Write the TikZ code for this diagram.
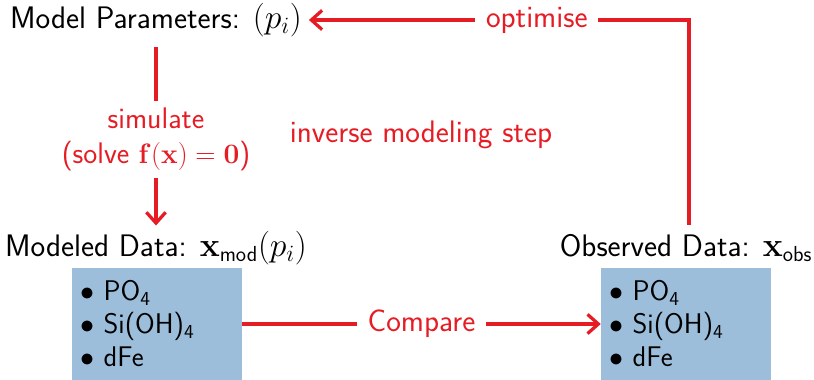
\documentclass[tikz,border=0pt]{standalone}
\usepackage{amsmath,amssymb}
\usetikzlibrary{arrows.meta,positioning}
\definecolor{flowred}{RGB}{230,28,36}
\definecolor{databox}{RGB}{156,190,218}

\begin{document}
\begin{tikzpicture}[x=0.739pt,y=-0.739pt,font=\fontsize{23}{26}\selectfont\sffamily]
\tikzset{
  title/.style={inner sep=1pt,text=black},
  boxnode/.style={fill=databox,minimum width=125.6pt,minimum height=83pt,inner xsep=6pt,inner ysep=2pt,
    text width=113.6pt,align=left,anchor=center,font=\fontsize{21}{24.4}\selectfont\sffamily},
  flow/.style={draw=flowred,line width=2.8pt},
  flowarrow/.style={flow,-{Straight Barb[length=2.8mm,width=5mm,line width=2.4pt]}},
  flowlabel/.style={fill=white,text=flowred,inner xsep=8pt,inner ysep=5pt,align=center}
}
\useasboundingbox (0,0) rectangle (814,380);
\node[title] (n_par) at (156,20) {Model Parameters: $(p_i)$};
\node[title] (n_mod) at (156,248) {Modeled Data: $\mathbf{x}_{\textsf{mod}}(p_i)$};
\node[title] (n_obs) at (686,248) {Observed Data: $\mathbf{x}_{\textsf{obs}}$};
\node[boxnode] (n_modbox) at (157,324) {$\bullet$ PO\textsubscript{4}\\ $\bullet$ Si(OH)\textsubscript{4}\\ $\bullet$ dFe};
\node[boxnode] (n_obsbox) at (686,324) {$\bullet$ PO\textsubscript{4}\\ $\bullet$ Si(OH)\textsubscript{4}\\ $\bullet$ dFe};
\node[text=flowred] (n_inv) at (421,135) {inverse modeling step};
\draw[flowarrow] ([yshift=-6pt]n_par.south) -- node[flowlabel,pos=0.52,font=\fontsize{22}{26}\selectfont\sffamily] {simulate\\ (solve $\mathbf{f}(\mathbf{x})=\mathbf{0}$)} ([yshift=3pt]n_mod.north);
\draw[flowarrow] ([xshift=2pt,yshift=6pt]n_obs.north) |- node[flowlabel,pos=0.7] {optimise} ([xshift=4pt]n_par.east);
\draw[flowarrow] (n_modbox.east) -- node[flowlabel] {Compare} (n_obsbox.west);
\end{tikzpicture}
\end{document}
